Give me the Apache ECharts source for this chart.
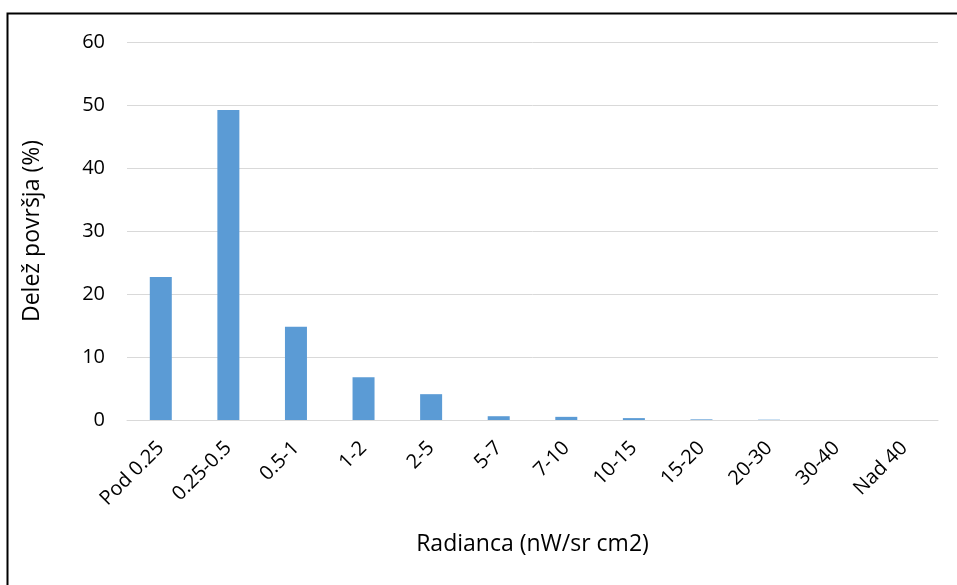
<!DOCTYPE html>
<html>
<head>
<meta charset="utf-8">
<script src="https://cdn.jsdelivr.net/npm/echarts@6/dist/echarts.min.js"></script>
<style>
  html, body { margin: 0; padding: 0; background: #fff; }
  #chart { width: 957px; height: 585px; }
</style>
</head>
<body>
<div id="chart"></div>
<script>
// Radiance classes (nW/sr cm2)
const categories = ['Pod 0.25', '0.25-0.5', '0.5-1', '1-2', '2-5', '5-7', '7-10', '10-15', '15-20', '20-30', '30-40', 'Nad 40'];
// Share of area per class (%)
const shares = [22.7, 49.2, 14.8, 6.8, 4.1, 0.6, 0.5, 0.3, 0.1, 0.05, 0.0, 0.0];
const yTicks = { min: 0, max: 60, interval: 10 };

const font = '"Open Sans", "Noto Sans", sans-serif';

const chart = echarts.init(document.getElementById('chart'), null, { renderer: 'canvas' });
chart.setOption({
  animation: false,
  backgroundColor: '#ffffff',
  graphic: [{
    type: 'rect',
    shape: { x: 7.5, y: 13.5, width: 1000, height: 1000 },
    style: { fill: 'none', stroke: '#000', lineWidth: 2 },
    silent: true
  }],
  grid: { left: 127, right: 19, top: 42, bottom: 165, containLabel: false },
  xAxis: {
    type: 'category',
    data: categories,
    name: 'Radianca (nW/sr cm2)',
    nameLocation: 'middle',
    nameGap: 113,
    nameTextStyle: { fontFamily: font, fontSize: 23, color: '#000' },
    axisLine: { lineStyle: { color: '#d9d9d9', width: 1 } },
    axisTick: { show: false },
    axisLabel: { rotate: 45, fontFamily: font, fontSize: 20, color: '#000', margin: 25, interval: 0 }
  },
  yAxis: {
    type: 'value',
    min: yTicks.min, max: yTicks.max, interval: yTicks.interval,
    name: 'Delež površja (%)',
    nameLocation: 'middle',
    nameGap: 83,
    nameRotate: 90,
    nameTextStyle: { fontFamily: font, fontSize: 23, color: '#000' },
    axisLine: { show: false },
    axisTick: { show: false },
    axisLabel: { fontFamily: font, fontSize: 20, color: '#000', margin: 22 },
    splitLine: { lineStyle: { color: '#d9d9d9', width: 1 } }
  },
  series: [{
    type: 'bar',
    data: shares,
    barWidth: 22,
    itemStyle: { color: '#5b9bd5' }
  }]
});
</script>
</body>
</html>
